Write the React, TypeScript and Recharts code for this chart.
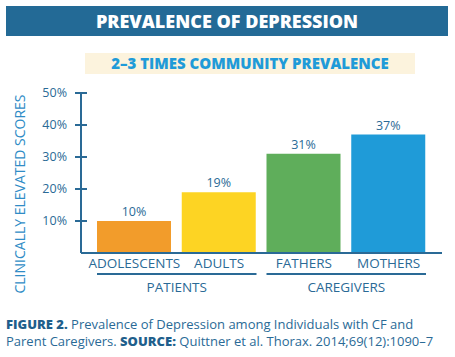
import React from "react";
import { BarChart, Bar, XAxis, YAxis, Cell, LabelList, ReferenceArea } from "recharts";

const categories = ["ADOLESCENTS", "ADULTS", "FATHERS", "MOTHERS"];
const values = [10, 19, 31, 37];
const colors = ["#f29c2b", "#fdd423", "#5fae5b", "#1f9bd8"];
const groups = [
  { name: "PATIENTS", from: "ADOLESCENTS", to: "ADULTS" },
  { name: "CAREGIVERS", from: "FATHERS", to: "MOTHERS" },
];
const yTicks = [10, 20, 30, 40, 50];

const data = categories.map((c, i) => ({ name: c, value: values[i] }));

const DARK = "#2a6a96";
const FONT = "'Open Sans', sans-serif";

const YTick = (props: any) => {
  const { x, y, payload } = props;
  return (
    <g>
      <line x1={x - 6} x2={x + 6} y1={y} y2={y} stroke={DARK} strokeWidth={2} />
      <text x={x - 14} y={y} dy={4} textAnchor="end" fontSize={12.5} fill={DARK} fontFamily={FONT}>
        {payload.value}%
      </text>
    </g>
  );
};

const XTick = (props: any) => {
  const { x, y, payload } = props;
  return (
    <text x={x} y={y} dy={15} textAnchor="middle" fontSize={13.5} fill={DARK} fontFamily={FONT}>
      {payload.value}
    </text>
  );
};

const groupShape = (label: string) => (props: any) => {
  const { x, y, width, height } = props;
  const base = y + height;
  return (
    <g>
      <line x1={x + 5} x2={x + width - 5} y1={base + 21} y2={base + 21} stroke={DARK} strokeWidth={2} />
      <text x={x + width / 2} y={base + 34} dy={4.5} textAnchor="middle" fontSize={13.5} fill={DARK} fontFamily={FONT}>
        {label}
      </text>
    </g>
  );
};

const YLabel = () => (
  <text
    x={20}
    y={194}
    transform="rotate(-90 20 194)"
    textAnchor="middle"
    dy={5}
    fontSize={14}
    fill="#2f8cc6"
    fontFamily={FONT}
  >
    CLINICALLY ELEVATED SCORES
  </text>
);

export default function App() {
  return (
    <div style={{ position: "absolute", left: 0, top: 0, width: 455, height: 357, background: "#fff", fontFamily: FONT }}>
      <div
        style={{
          position: "absolute", left: 6, top: 6, width: 442, height: 30, background: "#236a96",
          color: "#fff", fontWeight: 800, fontSize: 18, lineHeight: "30px", textAlign: "center",
        }}
      >
        PREVALENCE OF DEPRESSION
      </div>
      <div
        style={{
          position: "absolute", left: 85, top: 53, width: 330, height: 21, background: "#fcf3dd",
          color: "#1f9bd8", fontWeight: 800, fontSize: 15, lineHeight: "21px", textAlign: "center",
        }}
      >
        2–3 TIMES COMMUNITY PREVALENCE
      </div>
      <div style={{ position: "absolute", left: 0, top: 0 }}>
        <BarChart width={455} height={357} data={data} margin={{ top: 93, right: 13, bottom: 64, left: 21 }}>
          <XAxis
            dataKey="name"
            tickLine={false}
            tickSize={0}
            tickMargin={0}
            axisLine={{ stroke: DARK, strokeWidth: 2 }}
            tick={<XTick />}
            height={40}
            padding={{ left: 11, right: 11 }}
            interval={0}
          />
          <YAxis
            domain={[0, 50]}
            ticks={yTicks}
            width={60}
            tickLine={false}
            tickSize={0}
            tickMargin={0}
            axisLine={{ stroke: DARK, strokeWidth: 2 }}
            tick={<YTick />}
            label={{ value: "CLINICALLY ELEVATED SCORES", content: () => <YLabel /> }}
          />
          {groups.map((g) => (
            <ReferenceArea
              key={g.name}
              x1={g.from}
              x2={g.to}
              y1={0}
              y2={1}
              ifOverflow="visible"
              shape={groupShape(g.name)}
            />
          ))}
          <Bar dataKey="value" barSize={74} isAnimationActive={false}>
            {data.map((d, i) => (
              <Cell key={d.name} fill={colors[i]} />
            ))}
            <LabelList
              dataKey="value"
              position="top"
              offset={5}
              formatter={(v: any) => `${v}%`}
              fontSize={12.5}
              fill={DARK}
              fontFamily={FONT}
            />
          </Bar>
        </BarChart>
      </div>
      <div
        style={{
          position: "absolute", left: 6, top: 316, width: 449, fontSize: 13, lineHeight: "17px",
          color: "#2a6a96", whiteSpace: "nowrap",
        }}
      >
        <b style={{ color: "#1f5f8c", fontWeight: 800 }}>FIGURE 2.</b> Prevalence of Depression among Individuals with CF and
        <br />
        Parent Caregivers. <b style={{ color: "#1f5f8c", fontWeight: 800 }}>SOURCE:</b> Quittner et al. Thorax. 2014;69(12):1090–7
      </div>
    </div>
  );
}
